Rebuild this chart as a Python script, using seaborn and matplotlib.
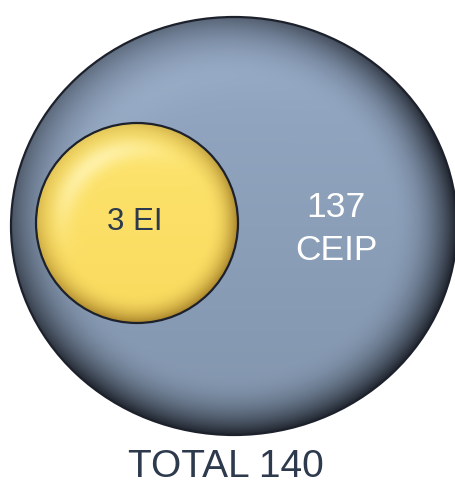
import numpy as np
import matplotlib.pyplot as plt
import seaborn as sns
from matplotlib.patches import Ellipse
from matplotlib.colors import to_rgb

# data
groups = ["EI", "CEIP"]
counts = [3, 137]
total_label = "TOTAL"

sns.set_theme(style="white")
plt.rcParams['font.family'] = ['Liberation Sans', 'DejaVu Sans']

W, H = 455, 486
fig = plt.figure(figsize=(W / 100, H / 100), dpi=100)
ax = fig.add_axes([0, 0, 1, 1])
ax.set_xlim(0, W)
ax.set_ylim(H, 0)
ax.axis('off')

yy, xx = np.mgrid[0:H, 0:W] + 0.5


def mix(a, b, t):
    t = np.clip(t, 0, 1)[..., None]
    return np.array(a) * (1 - t) + np.array(b) * t


def bubble(cx, cy, rx, ry, top, base, rim, hi, hi_amt, rim_amt):
    dx = (xx - cx) / rx
    dy = (yy - cy) / ry
    r = np.hypot(dx, dy)
    # light comes from the upper left
    cosang = (-0.6 * dx - 0.8 * dy) / np.maximum(r, 1e-6)
    img = mix(to_rgb(top), to_rgb(base), (dy + 1) / 2)
    hl = np.exp(-((r - 0.74) / 0.12) ** 2) * np.clip(cosang, 0, 1) ** 2
    img = mix(img, to_rgb(hi), hl * hi_amt)
    edge = np.clip((r - 0.7) / 0.3, 0, 1) ** 2.2
    img = mix(img, to_rgb(rim), edge * np.clip(rim_amt - 0.45 * cosang, 0, 1))
    patch = Ellipse((cx, cy), 2 * rx, 2 * ry, facecolor='none',
                    edgecolor='#1c212c', lw=1.6, zorder=3)
    im = ax.imshow(img, extent=(0, W, H, 0), origin='upper',
                   interpolation='bilinear', zorder=2)
    ax.add_patch(patch)
    im.set_clip_path(patch)


# big grey-blue bubble (CEIP) and small yellow bubble (EI)
bubble(234, 226, 223, 209, '#95a9c5', '#8295ad', '#20252e', '#a5b7d0', 0.3, 0.9)
bubble(137, 223, 101, 100, '#fde46e', '#f9da5e', '#a8832a', '#fff4b4', 0.8, 0.75)

txt = '#2d3a4d'
ax.text(135, 230, f"{counts[0]} {groups[0]}", ha='center', va='baseline',
        fontsize=22.5, color=txt, zorder=5)
ax.text(336, 217, f"{counts[1]}", ha='center', va='baseline',
        fontsize=25.5, color='white', zorder=5)
ax.text(336, 260, groups[1], ha='center', va='baseline',
        fontsize=25.5, color='white', zorder=5)
ax.text(226, 477, f"{total_label} {sum(counts)}", ha='center', va='baseline',
        fontsize=28, color=txt, zorder=5)

fig.savefig('out.png', dpi=100)
